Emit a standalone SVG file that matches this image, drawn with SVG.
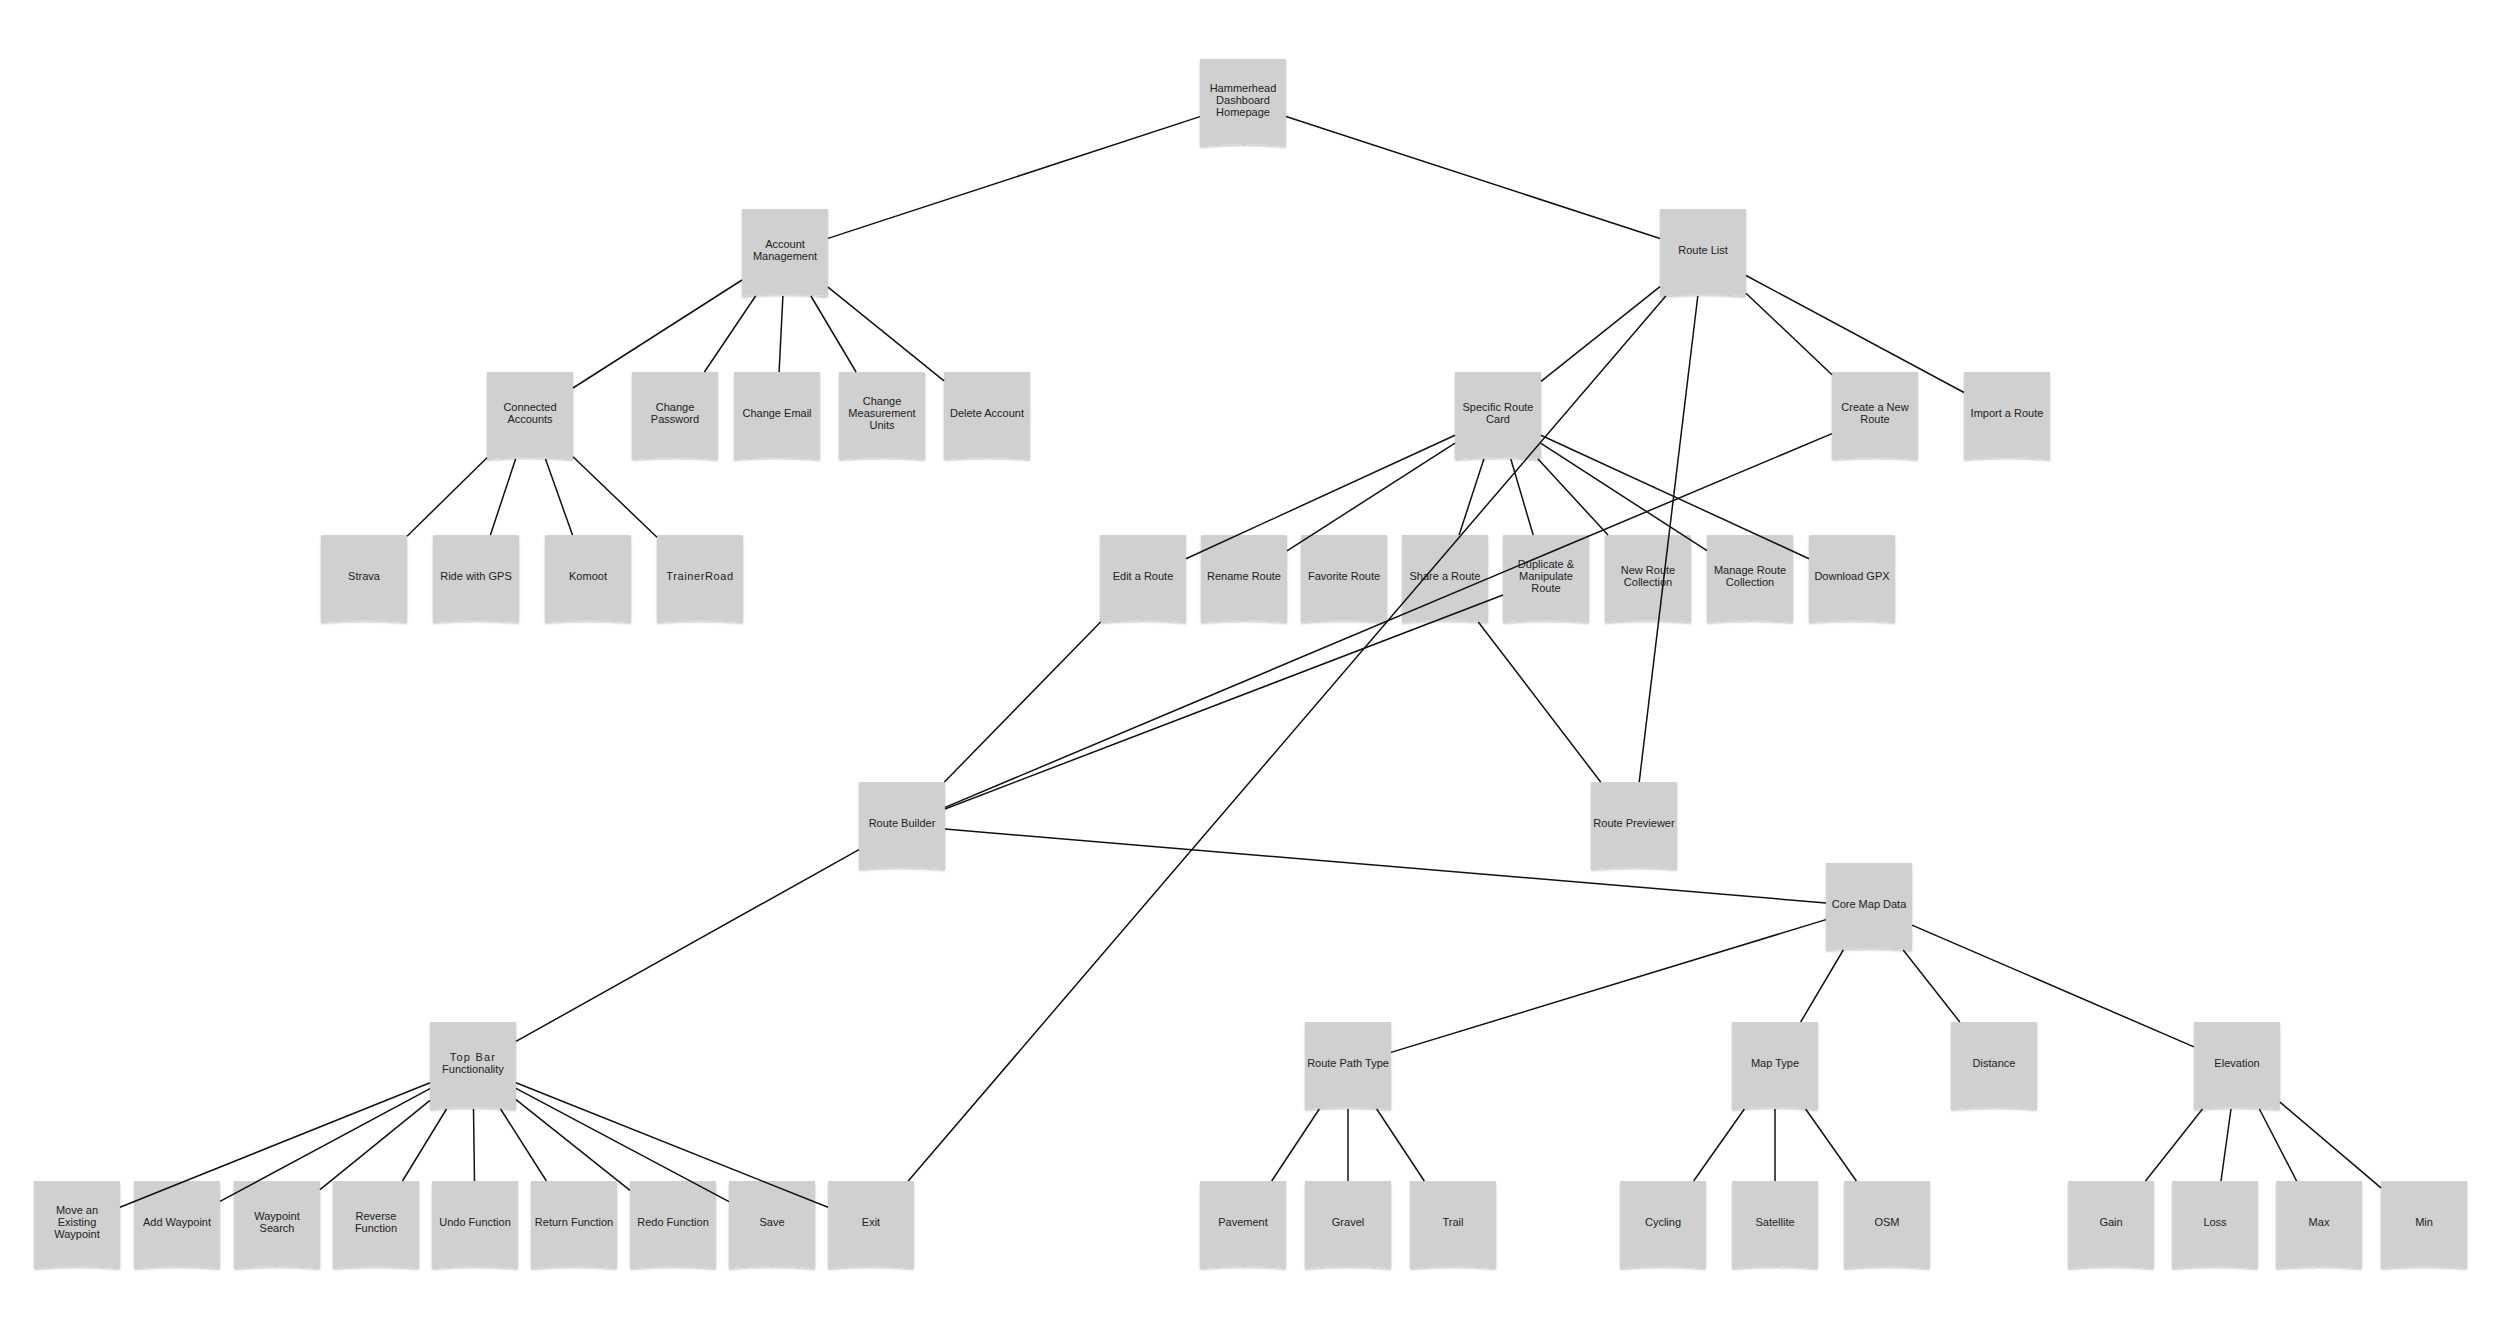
<svg xmlns="http://www.w3.org/2000/svg" xmlns:xlink="http://www.w3.org/1999/xlink" width="2500" height="1327" viewBox="0 0 2500 1327">
<style>
.bg{fill:#ffffff}
.t{font-family:"Liberation Sans",Arial,sans-serif;font-size:11px;fill:#222222;text-anchor:middle}
.c line{stroke:#111111;stroke-width:1.5;fill:none}
</style>
<defs>
<filter id="sh" x="-10%" y="-10%" width="120%" height="130%">
<feDropShadow dx="0" dy="2" stdDeviation="1.3" flood-color="#000" flood-opacity="0.22"/>
</filter>
<path id="box" d="M0 0 H86 V87 Q43 83 0 87 Z" fill="#d0d0d0" filter="url(#sh)"/>
</defs>
<rect class="bg" x="0" y="0" width="2500" height="1327"/>
<g id="nodes">
<g id="n-hh" transform="translate(1200,58)"><use href="#box" y="1"/><text class="t" x="43" y="33.5">Hammerhead</text><text class="t" x="43" y="45.5">Dashboard</text><text class="t" x="43" y="57.5">Homepage</text></g>
<g id="n-am" transform="translate(742,208)"><use href="#box" y="1"/><text class="t" x="43" y="39.5">Account</text><text class="t" x="43" y="51.5">Management</text></g>
<g id="n-rl" transform="translate(1660,208)"><use href="#box" y="1"/><text class="t" x="43" y="45.5">Route List</text></g>
<g id="n-ca" transform="translate(487,371)"><use href="#box" y="1"/><text class="t" x="43" y="39.5">Connected</text><text class="t" x="43" y="51.5">Accounts</text></g>
<g id="n-cp" transform="translate(632,371)"><use href="#box" y="1"/><text class="t" x="43" y="39.5">Change</text><text class="t" x="43" y="51.5">Password</text></g>
<g id="n-ce" transform="translate(734,371)"><use href="#box" y="1"/><text class="t" x="43" y="45.5">Change Email</text></g>
<g id="n-cmu" transform="translate(839,371)"><use href="#box" y="1"/><text class="t" x="43" y="33.5">Change</text><text class="t" x="43" y="45.5">Measurement</text><text class="t" x="43" y="57.5">Units</text></g>
<g id="n-da" transform="translate(944,371)"><use href="#box" y="1"/><text class="t" x="43" y="45.5">Delete Account</text></g>
<g id="n-src" transform="translate(1455,371)"><use href="#box" y="1"/><text class="t" x="43" y="39.5">Specific Route</text><text class="t" x="43" y="51.5">Card</text></g>
<g id="n-cnr" transform="translate(1832,371)"><use href="#box" y="1"/><text class="t" x="43" y="39.5">Create a New</text><text class="t" x="43" y="51.5">Route</text></g>
<g id="n-ir" transform="translate(1964,371)"><use href="#box" y="1"/><text class="t" x="43" y="45.5">Import a Route</text></g>
<g id="n-strava" transform="translate(321,534)"><use href="#box" y="1"/><text class="t" x="43" y="45.5">Strava</text></g>
<g id="n-rgps" transform="translate(433,534)"><use href="#box" y="1"/><text class="t" x="43" y="45.5">Ride with GPS</text></g>
<g id="n-komoot" transform="translate(545,534)"><use href="#box" y="1"/><text class="t" x="43" y="45.5">Komoot</text></g>
<g id="n-trainer" transform="translate(657,534)"><use href="#box" y="1"/><text class="t" x="43" y="45.5" letter-spacing="0.6">TrainerRoad</text></g>
<g id="n-edit" transform="translate(1100,534)"><use href="#box" y="1"/><text class="t" x="43" y="45.5">Edit a Route</text></g>
<g id="n-rename" transform="translate(1201,534)"><use href="#box" y="1"/><text class="t" x="43" y="45.5">Rename Route</text></g>
<g id="n-fav" transform="translate(1301,534)"><use href="#box" y="1"/><text class="t" x="43" y="45.5">Favorite Route</text></g>
<g id="n-share" transform="translate(1402,534)"><use href="#box" y="1"/><text class="t" x="43" y="45.5">Share a Route</text></g>
<g id="n-dup" transform="translate(1503,534)"><use href="#box" y="1"/><text class="t" x="43" y="33.5">Duplicate &amp;</text><text class="t" x="43" y="45.5">Manipulate</text><text class="t" x="43" y="57.5">Route</text></g>
<g id="n-nrc" transform="translate(1605,534)"><use href="#box" y="1"/><text class="t" x="43" y="39.5">New Route</text><text class="t" x="43" y="51.5">Collection</text></g>
<g id="n-mrc" transform="translate(1707,534)"><use href="#box" y="1"/><text class="t" x="43" y="39.5">Manage Route</text><text class="t" x="43" y="51.5">Collection</text></g>
<g id="n-gpx" transform="translate(1809,534)"><use href="#box" y="1"/><text class="t" x="43" y="45.5">Download GPX</text></g>
<g id="n-rb" transform="translate(859,781)"><use href="#box" y="1"/><text class="t" x="43" y="45.5">Route Builder</text></g>
<g id="n-rp" transform="translate(1591,781)"><use href="#box" y="1"/><text class="t" x="43" y="45.5">Route Previewer</text></g>
<g id="n-cmd" transform="translate(1826,862)"><use href="#box" y="1"/><text class="t" x="43" y="45.5">Core Map Data</text></g>
<g id="n-tbf" transform="translate(430,1021)"><use href="#box" y="1"/><text class="t" x="43" y="39.5" letter-spacing="1.2">Top Bar</text><text class="t" x="43" y="51.5">Functionality</text></g>
<g id="n-rpt" transform="translate(1305,1021)"><use href="#box" y="1"/><text class="t" x="43" y="45.5">Route Path Type</text></g>
<g id="n-mt" transform="translate(1732,1021)"><use href="#box" y="1"/><text class="t" x="43" y="45.5">Map Type</text></g>
<g id="n-dist" transform="translate(1951,1021)"><use href="#box" y="1"/><text class="t" x="43" y="45.5">Distance</text></g>
<g id="n-elev" transform="translate(2194,1021)"><use href="#box" y="1"/><text class="t" x="43" y="45.5">Elevation</text></g>
<g id="n-move" transform="translate(34,1180)"><use href="#box" y="1"/><text class="t" x="43" y="33.5">Move an</text><text class="t" x="43" y="45.5">Existing</text><text class="t" x="43" y="57.5">Waypoint</text></g>
<g id="n-add" transform="translate(134,1180)"><use href="#box" y="1"/><text class="t" x="43" y="45.5">Add Waypoint</text></g>
<g id="n-wps" transform="translate(234,1180)"><use href="#box" y="1"/><text class="t" x="43" y="39.5">Waypoint</text><text class="t" x="43" y="51.5">Search</text></g>
<g id="n-rev" transform="translate(333,1180)"><use href="#box" y="1"/><text class="t" x="43" y="39.5">Reverse</text><text class="t" x="43" y="51.5">Function</text></g>
<g id="n-undo" transform="translate(432,1180)"><use href="#box" y="1"/><text class="t" x="43" y="45.5">Undo Function</text></g>
<g id="n-ret" transform="translate(531,1180)"><use href="#box" y="1"/><text class="t" x="43" y="45.5">Return Function</text></g>
<g id="n-redo" transform="translate(630,1180)"><use href="#box" y="1"/><text class="t" x="43" y="45.5">Redo Function</text></g>
<g id="n-save" transform="translate(729,1180)"><use href="#box" y="1"/><text class="t" x="43" y="45.5">Save</text></g>
<g id="n-exit" transform="translate(828,1180)"><use href="#box" y="1"/><text class="t" x="43" y="45.5">Exit</text></g>
<g id="n-pave" transform="translate(1200,1180)"><use href="#box" y="1"/><text class="t" x="43" y="45.5">Pavement</text></g>
<g id="n-gravel" transform="translate(1305,1180)"><use href="#box" y="1"/><text class="t" x="43" y="45.5">Gravel</text></g>
<g id="n-trail" transform="translate(1410,1180)"><use href="#box" y="1"/><text class="t" x="43" y="45.5">Trail</text></g>
<g id="n-cyc" transform="translate(1620,1180)"><use href="#box" y="1"/><text class="t" x="43" y="45.5">Cycling</text></g>
<g id="n-sat" transform="translate(1732,1180)"><use href="#box" y="1"/><text class="t" x="43" y="45.5">Satellite</text></g>
<g id="n-osm" transform="translate(1844,1180)"><use href="#box" y="1"/><text class="t" x="43" y="45.5">OSM</text></g>
<g id="n-gain" transform="translate(2068,1180)"><use href="#box" y="1"/><text class="t" x="43" y="45.5">Gain</text></g>
<g id="n-loss" transform="translate(2172,1180)"><use href="#box" y="1"/><text class="t" x="43" y="45.5">Loss</text></g>
<g id="n-max" transform="translate(2276,1180)"><use href="#box" y="1"/><text class="t" x="43" y="45.5">Max</text></g>
<g id="n-min" transform="translate(2381,1180)"><use href="#box" y="1"/><text class="t" x="43" y="45.5">Min</text></g>
</g>
<g id="connectors" class="c">
<line x1="1200" y1="116.6" x2="828" y2="238.4"/>
<line x1="1286" y1="116.5" x2="1660" y2="238.5"/>
<line x1="742" y1="280" x2="573" y2="388"/>
<line x1="755.6" y1="296" x2="704.4" y2="372"/>
<line x1="782.9" y1="296" x2="779.1" y2="372"/>
<line x1="810.9" y1="296" x2="856.1" y2="372"/>
<line x1="828" y1="287.2" x2="944" y2="380.8"/>
<line x1="487" y1="457.7" x2="407" y2="536.3"/>
<line x1="515.6" y1="459" x2="490.4" y2="535"/>
<line x1="545.5" y1="459" x2="572.5" y2="535"/>
<line x1="573" y1="456.7" x2="657" y2="537.3"/>
<line x1="1660" y1="286.7" x2="1541" y2="381.3"/>
<line x1="1665.8" y1="296" x2="908.2" y2="1181"/>
<line x1="1697.8" y1="296" x2="1639.2" y2="782"/>
<line x1="1746" y1="293.3" x2="1832" y2="374.7"/>
<line x1="1746" y1="275.5" x2="1964" y2="392.5"/>
<line x1="1455" y1="435.2" x2="1186" y2="558.8"/>
<line x1="1455" y1="443.1" x2="1287" y2="550.9"/>
<line x1="1483.9" y1="459" x2="1459.1" y2="535"/>
<line x1="1510.8" y1="459" x2="1533.2" y2="535"/>
<line x1="1538" y1="459" x2="1608" y2="535"/>
<line x1="1541" y1="443.3" x2="1707" y2="550.7"/>
<line x1="1541" y1="435.3" x2="1809" y2="558.7"/>
<line x1="1100.6" y1="622" x2="944.4" y2="782"/>
<line x1="1832" y1="433.6" x2="945" y2="807.4"/>
<line x1="1503" y1="595" x2="945" y2="809"/>
<line x1="1478.3" y1="622" x2="1600.7" y2="782"/>
<line x1="945" y1="829.1" x2="1826" y2="902.9"/>
<line x1="859" y1="849.6" x2="516" y2="1041.4"/>
<line x1="430" y1="1082.8" x2="120" y2="1207.2"/>
<line x1="430" y1="1088.6" x2="220" y2="1201.4"/>
<line x1="430" y1="1100.4" x2="320" y2="1189.6"/>
<line x1="446.5" y1="1109" x2="402.5" y2="1181"/>
<line x1="473.5" y1="1109" x2="474.5" y2="1181"/>
<line x1="500.6" y1="1109" x2="546.4" y2="1181"/>
<line x1="516" y1="1099.7" x2="630" y2="1190.3"/>
<line x1="516" y1="1088.4" x2="729" y2="1201.6"/>
<line x1="516" y1="1082.7" x2="828" y2="1207.3"/>
<line x1="1826" y1="919.6" x2="1391" y2="1052.4"/>
<line x1="1843.3" y1="950" x2="1800.7" y2="1022"/>
<line x1="1903.2" y1="950" x2="1959.8" y2="1022"/>
<line x1="1912" y1="925.1" x2="2194" y2="1046.9"/>
<line x1="1319.3" y1="1109" x2="1271.7" y2="1181"/>
<line x1="1348" y1="1109" x2="1348" y2="1181"/>
<line x1="1376.7" y1="1109" x2="1424.3" y2="1181"/>
<line x1="1744.4" y1="1109" x2="1693.6" y2="1181"/>
<line x1="1775" y1="1109" x2="1775" y2="1181"/>
<line x1="1805.6" y1="1109" x2="1856.4" y2="1181"/>
<line x1="2202.5" y1="1109" x2="2145.5" y2="1181"/>
<line x1="2231" y1="1109" x2="2221" y2="1181"/>
<line x1="2259.4" y1="1109" x2="2296.6" y2="1181"/>
<line x1="2280" y1="1102.1" x2="2381" y2="1187.9"/>
</g>
</svg>
